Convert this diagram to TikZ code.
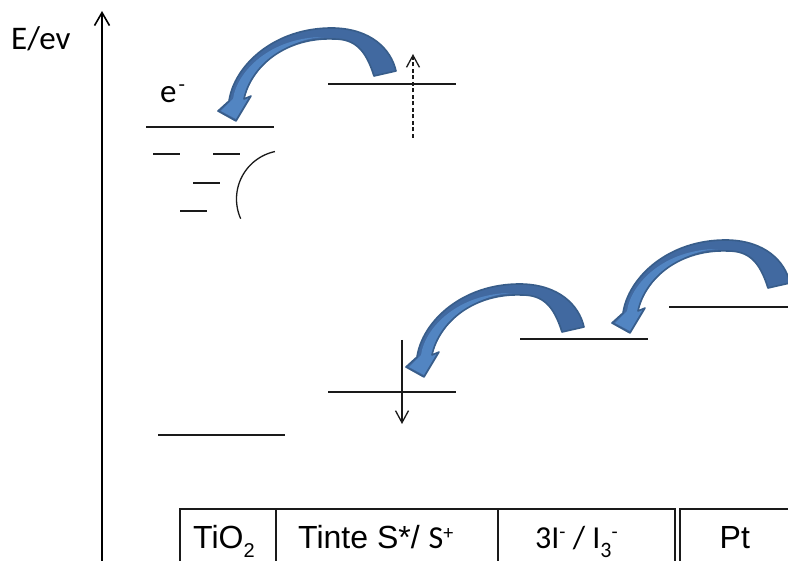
\documentclass[tikz,border=0pt]{standalone}
\usepackage{fontspec}
\setmainfont{Liberation Sans}
\newfontfamily\calfont{Carlito}
\usetikzlibrary{arrows.meta}
\definecolor{arrowdark}{HTML}{4169A0}
\definecolor{arrowlight}{HTML}{5285C2}
\definecolor{arrowedge}{HTML}{385D8A}
\definecolor{linegray}{HTML}{1A1A1A}
\tikzset{
  level/.style={draw=linegray, line width=1.3pt},
  tablerule/.style={draw=linegray, line width=1.2pt},
  barb/.style={-{Straight Barb[length=12pt,width=13pt,line width=1.3pt]}},
  lbl/.style={anchor=base west, inner sep=0pt},
  curvarrow/.pic={
    \fill[arrowdark]
      (-7,-20) .. controls (-2,-55) and (38,-94) .. (98,-93)
      .. controls (135,-92) and (155,-72) .. (160,-50)
      -- (138,-45)
      .. controls (130,-70) and (120,-82) .. (98,-82)
      .. controls (50,-84) and (15,-55) .. (8,-22)
      -- (15,-25) -- (0,0) -- (-18,-10) -- cycle;
    \fill[arrowlight]
      (-3,-22) .. controls (1,-50) and (35,-84) .. (88,-84)
      .. controls (50,-82) and (17,-55) .. (8,-22)
      -- (13,-24) -- (0,-2) -- (-15,-10) -- cycle;
    \draw[arrowedge, line width=1.6pt, line join=round]
      (-7,-20) .. controls (-2,-55) and (38,-94) .. (98,-93)
      .. controls (135,-92) and (155,-72) .. (160,-50)
      -- (138,-45)
      .. controls (130,-70) and (120,-82) .. (98,-82)
      .. controls (50,-84) and (15,-55) .. (8,-22)
      -- (15,-25) -- (0,0) -- (-18,-10) -- cycle;
  }
}
\begin{document}
\begin{tikzpicture}[x=1pt,y=-1pt]
\useasboundingbox (0,0) rectangle (788,561);
% energy axis
\coordinate (axbot) at (102,561);
\coordinate (axtop) at (102,11);
\draw[line width=2pt, -{Straight Barb[length=13pt,width=15pt,line width=1.6pt]}] (axbot) -- (axtop);
\node[lbl, font=\calfont\fontsize{33}{38}\selectfont] (elabel) at (11,50) {E/ev};
% TiO2 levels
\draw[level] (146,127) -- (274,127);
\draw[level] (153,154) -- (180,154);
\draw[level] (213,154) -- (240,154);
\draw[level] (193,183) -- (220,183);
\draw[level] (180,211) -- (207,211);
\draw[line width=1.3pt, linegray] plot[domain=258:156, samples=50] ({285+48.5*cos(\x)},{199+48.5*sin(\x)});
\draw[level] (158,435) -- (285,435);
\node[lbl, font=\calfont\fontsize{33}{38}\selectfont] (electron) at (160,103) {e\kern2pt\raisebox{11pt}{\fontsize{21}{21}\selectfont -}};
% dye levels
\draw[level] (328,84) -- (456,84);
\draw[level] (328,392) -- (456,392);
\coordinate (exbot) at (413,138);
\coordinate (extop) at (413,54);
\draw[linegray, line width=1.3pt, dash pattern=on 4pt off 2.5pt, barb] (exbot) -- (extop);
\coordinate (gstop) at (402,340);
\coordinate (gsbot) at (402,424);
\draw[linegray, line width=1.3pt, barb] (gstop) -- (gsbot);
% redox and Pt levels
\draw[level] (520,339) -- (648,339);
\draw[level] (669,307) -- (788,307);
% curved blue arrows
\pic (injection) at (236,121) {curvarrow};
\pic (regeneration) at (424,377) {curvarrow};
\pic (reduction) at (630,333) {curvarrow};
% bottom table
\draw[tablerule] (180,561) -- (180,509) -- (675,509) -- (675,561);
\draw[tablerule] (680,561) -- (680,509) -- (788,509);
\draw[tablerule] (276,509) -- (276,561);
\draw[tablerule] (498,509) -- (498,561);
\node[lbl, font=\fontsize{32}{38}\selectfont] (tio) at (193,548) {TiO\raisebox{-9pt}{\fontsize{20}{20}\selectfont 2}};
\node[lbl, font=\fontsize{32}{38}\selectfont] (dye) at (298,548) {Tinte S*/ {\calfont S}\raisebox{8.5pt}{\calfont\fontsize{20}{20}\selectfont +}};
\node[lbl, font=\calfont\fontsize{32}{38}\selectfont] (redox) at (535,548) {3I\raisebox{10pt}{\fontsize{20}{20}\selectfont -} / I\raisebox{-9pt}{\fontsize{22}{22}\selectfont 3}\raisebox{10pt}{\fontsize{20}{20}\selectfont -}};
\node[lbl, font=\fontsize{32}{38}\selectfont] (pt) at (719.5,548) {Pt};
\end{tikzpicture}
\end{document}
